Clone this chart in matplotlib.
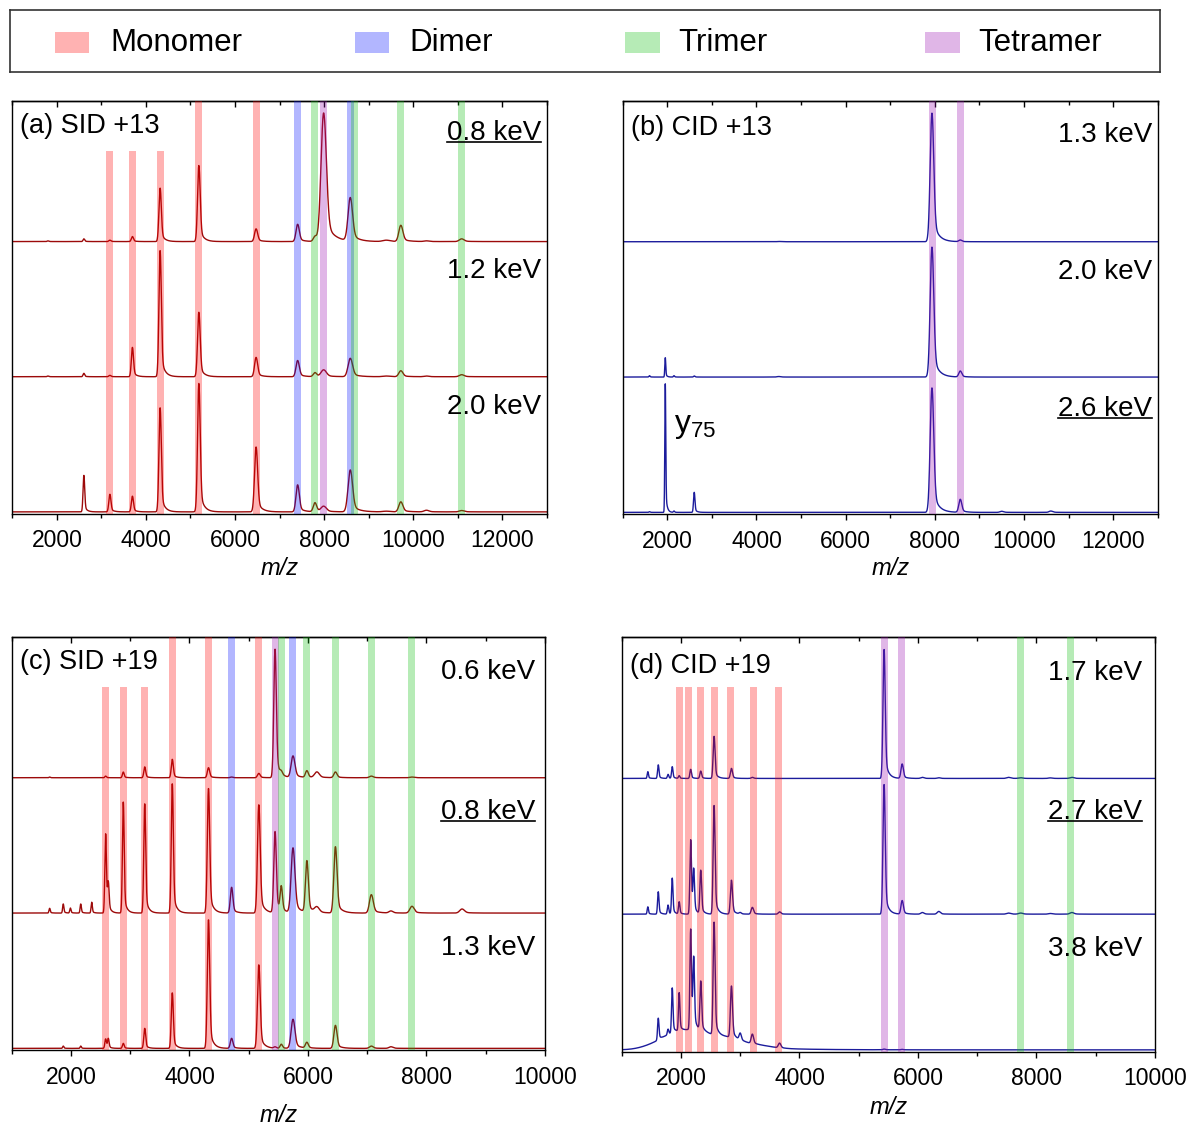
import numpy as np
import matplotlib
matplotlib.use("Agg")
import matplotlib.pyplot as plt
from matplotlib.patches import Rectangle
from matplotlib.lines import Line2D
from matplotlib.ticker import MultipleLocator

plt.rcParams['font.family'] = ['Liberation Sans', 'DejaVu Sans']
plt.rcParams['mathtext.fontset'] = 'custom'
plt.rcParams['mathtext.rm'] = 'Liberation Sans'
plt.rcParams['mathtext.it'] = 'Liberation Sans:italic'

# legend / band classes
KINDS = ['Monomer', 'Dimer', 'Trimer', 'Tetramer']
KIND_COLORS = ['#ff0000', '#0010ff', '#10c010', '#9a10b0']

# ---- panel (a) SID +13 ----
A_MZ = [1800, 2607, 3191, 3697, 4319, 5189, 6474, 7407, 7796, 7991, 8589, 9400, 9724, 10300, 11090]
A_W = [14, 14, 18, 18, 20, 22, 26, 28, 28, 45, 38, 60, 34, 40, 40]
A_H_08 = [0.005, 0.02, 0.01, 0.037, 0.395, 0.563, 0.094, 0.128, 0.037, 0.95, 0.32, 0.01, 0.12, 0.005, 0.02]
A_H_12 = [0.005, 0.025, 0.01, 0.217, 0.933, 0.477, 0.143, 0.12, 0.03, 0.05, 0.136, 0.005, 0.044, 0.005, 0.015]
A_H_20 = [0.0, 0.27, 0.13, 0.116, 0.77, 0.95, 0.48, 0.2, 0.067, 0.04, 0.31, 0.005, 0.074, 0.012, 0.01]
A_BAND_MZ = [3191, 3697, 4319, 5189, 6474, 7407, 7796, 7991, 8589, 8690, 9724, 11090]
A_BAND_KIND = [0, 0, 0, 0, 0, 1, 2, 3, 1, 2, 2, 2]
A_BAND_SHORT = [1, 1, 1, 0, 0, 0, 0, 0, 0, 0, 0, 0]
A_ENERGY = ['0.8 keV', '1.2 keV', '2.0 keV']

# ---- panel (b) CID +13 ----
B_MZ = [1600, 1955, 2150, 2604, 4500, 7935, 8570, 9500, 10600]
B_W = [10, 8, 10, 12, 30, 30, 25, 30, 30]
B_H_13 = [0.0, 0.0, 0.0, 0.0, 0.002, 0.95, 0.012, 0.0, 0.0]
B_H_20 = [0.01, 0.143, 0.01, 0.008, 0.004, 0.96, 0.044, 0.0, 0.0]
B_H_26 = [0.005, 0.95, 0.01, 0.148, 0.0, 0.92, 0.096, 0.008, 0.01]
B_BAND_MZ = [7940, 8575]
B_BAND_KIND = [3, 3]
B_BAND_SHORT = [0, 0]
B_ENERGY = ['1.3 keV', '2.0 keV', '2.6 keV']

# ---- panel (c) SID +19 ----
C_MZ = [1640, 1870, 1990, 2165, 2350, 2585, 2630, 2883, 3245, 3710, 4321, 4711, 5170,
        5444, 5549, 5747, 5981, 6150, 6463, 7069, 7400, 7755, 8600]
C_W = [8, 8, 8, 8, 8, 10, 10, 11, 12, 13, 15, 16, 17, 16, 15, 24, 18, 30, 20, 24, 25, 27, 30]
C_H_06 = [0.005, 0, 0, 0, 0, 0.012, 0, 0.042, 0.08, 0.136, 0.074, 0.005, 0.032,
          0.95, 0.02, 0.16, 0.05, 0.042, 0.042, 0.012, 0, 0.005, 0]
C_H_08 = [0.035, 0.067, 0.037, 0.067, 0.08, 0.585, 0.2, 0.82, 0.807, 0.955, 0.92, 0.19, 0.8,
          0.6, 0.18, 0.48, 0.38, 0.04, 0.49, 0.136, 0.015, 0.05, 0.03]
C_H_13 = [0, 0.017, 0, 0.017, 0, 0.07, 0.07, 0.037, 0.148, 0.41, 0.95, 0.074, 0.617,
          0.01, 0.03, 0.215, 0.042, 0.0, 0.17, 0.017, 0.012, 0.0, 0.0]
C_BAND_MZ = [2585, 2883, 3245, 3710, 4321, 4711, 5170, 5444, 5549, 5747, 5981, 6463, 7069, 7755]
C_BAND_KIND = [0, 0, 0, 0, 0, 1, 0, 3, 2, 1, 2, 2, 2, 2]
C_BAND_SHORT = [1, 1, 1, 0, 0, 0, 0, 0, 0, 0, 0, 0, 0, 0]
C_ENERGY = ['0.6 keV', '0.8 keV', '1.3 keV']

# ---- panel (d) CID +19 ----
D_MZ = [1441, 1617, 1782, 1853, 1970, 2164, 2215, 2334, 2559, 2852, 3000, 3205, 3664,
        5428, 5733, 6074, 6351, 7527, 7733, 8233, 8597]
D_W = [8, 9, 9, 9, 9, 10, 10, 11, 12, 13, 14, 15, 16, 14, 15, 20, 20, 25, 25, 25, 25]
D_H_17 = [0.05, 0.1, 0.03, 0.086, 0.02, 0.067, 0.0, 0.054, 0.31, 0.074, 0, 0.008, 0,
          0.95, 0.106, 0.008, 0.005, 0.008, 0.005, 0.004, 0.008]
D_H_27 = [0.054, 0.165, 0.067, 0.264, 0.09, 0.548, 0.31, 0.32, 0.8, 0.25, 0.01, 0.05, 0.017,
          0.955, 0.1, 0.012, 0.02, 0.008, 0.008, 0.005, 0.012]
D_H_38 = [0.0, 0.16, 0.04, 0.33, 0.28, 0.74, 0.5, 0.36, 0.83, 0.38, 0.05, 0.07, 0.035,
          0.005, 0.003, 0, 0, 0, 0, 0, 0]
# broad unresolved hump under the 3.8 keV trace
D_HUMP_MZ = [1550, 1900, 2300, 2800, 3300]
D_HUMP_H = [0.03, 0.1, 0.11, 0.07, 0.02]
D_BAND_MZ = [1970, 2128, 2322, 2559, 2840, 3217, 3652, 5428, 5722, 7722, 8574]
D_BAND_KIND = [0, 0, 0, 0, 0, 0, 0, 3, 3, 2, 2]
D_BAND_SHORT = [1, 1, 1, 1, 1, 1, 1, 0, 0, 0, 0]
D_ENERGY = ['1.7 keV', '2.7 keV', '3.8 keV']


def spectrum(x, centers, heights, widths, scale=1.3):
    y = np.zeros_like(x)
    for c, h, w in zip(centers, heights, widths):
        d = (x - c) / (w * scale)
        core = np.exp(-0.5 * d ** 2)
        tail = np.where(d > 0, 0.2 * np.exp(-np.clip(d, 0, None) / 3.0) * (1 - core), 0)
        y += h * (core + tail)
    return y


fig = plt.figure(figsize=(11.93, 11.26), dpi=100)
W, H = 1193, 1126


def px_axes(l, t, r, b):
    return fig.add_axes([l / W, 1 - b / H, (r - l) / W, (b - t) / H])


panels = [
    dict(rect=(12.3, 101, 546.7, 513.5), xlim=(1000, 13000), mz=A_MZ, w=A_W,
         traces=[A_H_08, A_H_12, A_H_20], color='#9c0a0a', bands=(A_BAND_MZ, A_BAND_KIND, A_BAND_SHORT),
         bw=157, title='(a) SID +13', energy=A_ENERGY, under=0, ex=0.989, ey=[0.923, 0.588, 0.257],
         ty=0.94, lp=3),
    dict(rect=(622.7, 101, 1157.8, 514), xlim=(1000, 13000), mz=B_MZ, w=B_W,
         traces=[B_H_13, B_H_20, B_H_26], color='#1c1c9c', bands=(B_BAND_MZ, B_BAND_KIND, B_BAND_SHORT),
         bw=157, title='(b) CID +13', energy=B_ENERGY, under=2, ex=0.989, ey=[0.918, 0.585, 0.255],
         ty=0.935, lp=3),
    dict(rect=(11.7, 637, 545, 1050), xlim=(1000, 10000), mz=C_MZ, w=C_W,
         traces=[C_H_06, C_H_08, C_H_13], color='#9c0a0a', bands=(C_BAND_MZ, C_BAND_KIND, C_BAND_SHORT),
         bw=118, title='(c) SID +19', energy=C_ENERGY, under=1, ex=0.981, ey=[0.915, 0.576, 0.247],
         ty=0.94, lp=11),
    dict(rect=(621.7, 637.3, 1155, 1051.5), xlim=(1000, 10000), mz=D_MZ, w=D_W,
         traces=[D_H_17, D_H_27, D_H_38], color='#1c1c9c', bands=(D_BAND_MZ, D_BAND_KIND, D_BAND_SHORT),
         bw=118, title='(d) CID +19', energy=D_ENERGY, under=1, ex=0.976, ey=[0.915, 0.578, 0.247],
         ty=0.93, lp=4),
]

underlined = []
axes = []
for i, p in enumerate(panels):
    ax = px_axes(*p['rect'])
    axes.append(ax)
    x = np.linspace(p['xlim'][0], p['xlim'][1], 9000)
    for k, hts in enumerate(p['traces']):
        off = 2 - k
        y = spectrum(x, p['mz'], hts, p['w'])
        if i == 3 and k == 2:
            y = y + spectrum(x, D_HUMP_MZ, D_HUMP_H, [220] * len(D_HUMP_MZ), scale=1.0)
        ax.plot(x, y + off, color=p['color'], lw=1.0, zorder=2)
    bmz, bkind, bshort = p['bands']
    for c, kd, sh in zip(bmz, bkind, bshort):
        ax.axvspan(c - p['bw'] / 2, c + p['bw'] / 2, ymin=0, ymax=0.879 if sh else 1,
                   color=KIND_COLORS[kd], alpha=0.3, lw=0, zorder=3)
    ax.set_xlim(*p['xlim'])
    ax.set_ylim(-0.012, 3.04)
    ax.set_yticks([])
    ax.xaxis.set_major_locator(MultipleLocator(2000))
    ax.xaxis.set_minor_locator(MultipleLocator(1000))
    ax.tick_params(axis='x', which='major', direction='out', length=4.5, width=1, labelsize=16.5, pad=7)
    ax.tick_params(axis='x', which='minor', direction='out', length=3, width=1)
    sec = ax.secondary_xaxis('top')
    sec.xaxis.set_major_locator(MultipleLocator(2000))
    sec.xaxis.set_minor_locator(MultipleLocator(1000))
    sec.tick_params(which='major', direction='in', length=4.5, width=1, labeltop=False)
    sec.tick_params(which='minor', direction='in', length=3, width=1)
    for s in list(ax.spines.values()) + [sec.spines['top']]:
        s.set_linewidth(1.0)
    ax.set_xlabel('m/z', fontsize=17, fontstyle='italic', labelpad=p['lp'])
    ax.text(0.015, p['ty'], p['title'], transform=ax.transAxes, fontsize=19.5, ha='left', va='center')
    for k, lab in enumerate(p['energy']):
        t = ax.text(p['ex'], p['ey'][k], lab, transform=ax.transAxes, fontsize=20, ha='right', va='center')
        if k == p['under']:
            underlined.append(t)

# y75 fragment label in panel (b)
axes[1].text(2150, 0.64, r'y$_{\mathrm{75}}$', fontsize=23, ha='left', va='center')

# legend box across the top
lg = px_axes(10, 10, 1160, 71.7)
lg.set_xticks([])
lg.set_yticks([])
lg.set_xlim(0, 1)
lg.set_ylim(0, 1)
for s in lg.spines.values():
    s.set_linewidth(1.2)
    s.set_color('#333333')
patch_x = [0.039, 0.300, 0.535, 0.796]
text_x = [0.087, 0.347, 0.581, 0.842]
for name, col, px, tx in zip(KINDS, KIND_COLORS, patch_x, text_x):
    lg.add_patch(Rectangle((px, 0.30), 0.030, 0.34, facecolor=col, alpha=0.3, lw=0))
    lg.text(tx, 0.46, name, fontsize=22.5, ha='left', va='center')

# underline the selected energies
fig.canvas.draw()
r = fig.canvas.get_renderer()
for t in underlined:
    bb = t.get_window_extent(r)
    yy = (bb.y0 + 4) / H
    fig.add_artist(Line2D([bb.x0 / W, bb.x1 / W], [yy, yy], color='black', lw=1.2))

fig.savefig('out.png', dpi=100)
